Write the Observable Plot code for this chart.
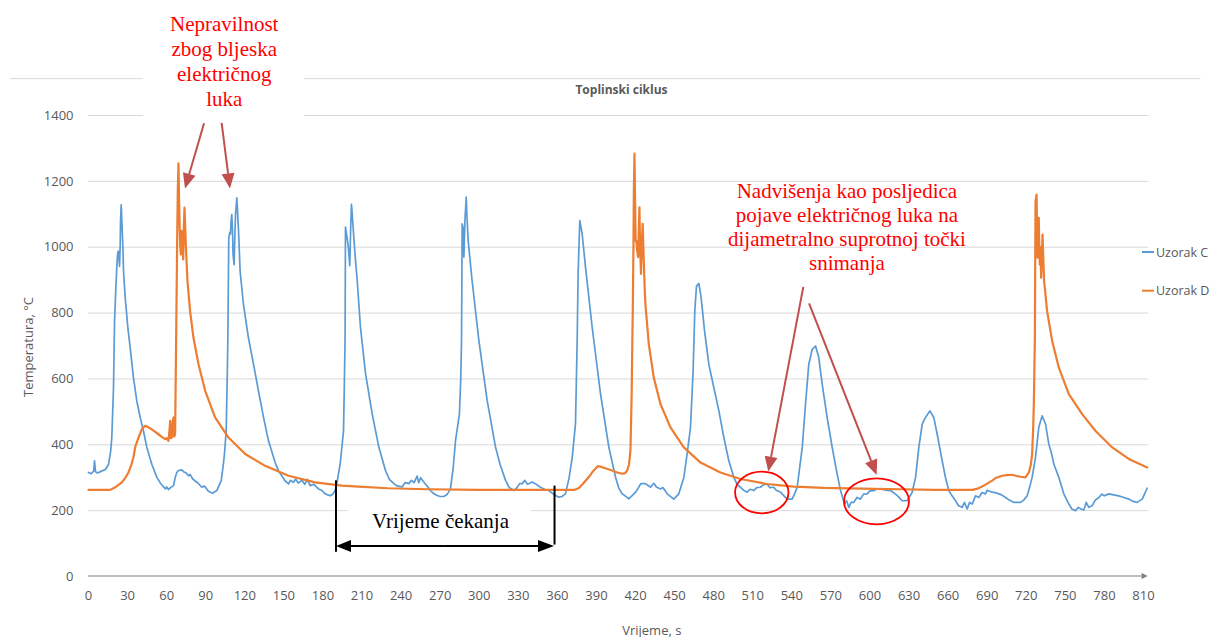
<!DOCTYPE html>
<html>
<head>
<meta charset="utf-8">
<script src="https://cdn.jsdelivr.net/npm/d3@7"></script>
<script src="https://cdn.jsdelivr.net/npm/@observablehq/plot@0.6"></script>
<style>
  html, body { margin: 0; padding: 0; background: #fff; }
  svg { display: block; }
</style>
</head>
<body>
<div id="chart"></div>
<script>
// ---------------- data ----------------
const chartTitle = "Toplinski ciklus";
const xLabel = "Vrijeme, s";
const yLabel = "Temperatura, °C";
const seriesNames = ["Uzorak C", "Uzorak D"];
const seriesColors = ["#5b9bd5", "#ed7d31"];
const xTicks = [0,30,60,90,120,150,180,210,240,270,300,330,360,390,420,450,480,510,540,570,600,630,660,690,720,750,780,810];
const yTicks = [0,200,400,600,800,1000,1200,1400];

// Uzorak C (blue)
const timeC = [0,2,4,4.6,5.4,7,10,13,15.4,17,17.9,19.2,20,21,22,22.5,23,23.5,23.8,24.3,24.6,25.1,25.5,25.8,26.5,26.9,28.2,30.2,32,34.5,37.1,39.7,42.2,44.8,48.6,52.5,55,57.6,59,60,61.4,63,65.3,66.5,67.8,69,71.7,73,75,76.8,78,80,81.9,84,87,89,92.1,95.2,98.5,101.9,103.5,104.4,105.7,106.5,107,107.7,108.5,109,109.5,110,110.5,111,111.8,112.4,112.9,113.9,114.3,115.2,115.8,116.4,119,122.8,126.7,130.5,134.4,138.2,143.3,146,148.4,151,153.6,155,157.4,159,161,163.8,166,168,170.2,173,176.6,179,181.7,185.5,187.5,189.4,191,193.2,195.8,196.5,197,197.3,198.5,199.5,200.6,201.3,201.9,202.5,203.5,205,206.3,208.8,212.7,217.8,222.9,228,231,234.4,237,240.8,243,245.9,248,250,252.3,253.5,255,257.4,260,262.6,265,267.7,270,272.8,275.5,277.9,280,281.8,284.8,285.8,286.4,286.9,287.5,288.2,289,290,290.5,291.5,294.5,299.7,306.1,312.5,316,320.2,323,326.6,329,331,333,335,337,340.7,343,347,350,353.4,357,361.1,363.5,366.2,369,371.4,373.9,375.2,375.9,377.2,379,381.6,386.7,393.1,399.5,404.6,407,409.7,412,414.8,417,420,422,424,427.6,431.5,434,436,439.2,441,444.3,449.4,453.2,457.1,459.6,462.2,464.2,465.5,466.8,468.6,470.4,473,476.3,480.1,484,487.8,491.6,495.5,498,500.6,503,505.7,508,510.8,513,515.9,518,521,523,526.2,528,531.3,534,536.4,540.2,542,544.1,546,548,550.5,553,555.6,558.2,560.7,563.3,567.1,571,574.8,577.4,580.4,582,583.8,585.5,587.6,590,592.7,595,597.8,600,603,605,608.1,612,615.8,619.6,622,624.7,628.6,632.4,635,637.5,640.1,642.6,646,649,651.6,655.4,658,660.5,663,665.7,668,670.8,672.5,674.6,676.5,678.5,681,683.6,686,688.7,690,693.8,696,698.9,701,704.1,707,710.5,715.6,718,720.7,722.5,724.5,727.1,729.6,732.2,734.8,737.3,739,741.2,745,748.8,752.7,755,757.8,760,762,764.2,766,768,770.6,773,775.7,778,780,783.4,787,791,795,798.7,802,805.1,809,812.8];
const tempC = [316,312,320,351,318,314,320,325,341,380,422,574,776,877,960,985,988,960,942,1000,1079,1129,1090,1059,990,927,846,756,695,604,533,483,442,392,341,301,285,272,266,272,264,270,276,300,316,322,324,318,314,306,310,296,290,284,271,275,259,253,261,291,340,372,442,600,725,1028,1045,1040,1080,1099,1060,978,947,1040,1099,1150,1120,1048,990,927,826,725,644,564,483,412,346,320,306,290,281,292,286,296,284,292,280,295,276,280,266,262,251,245,250,261,290,341,442,600,725,1061,1030,1000,944,1060,1130,1100,1040,960,899,757,616,494,393,322,295,282,275,272,285,282,292,285,305,285,300,287,275,261,252,246,243,243,250,266,330,413,494,600,717,1071,1060,970,1080,1152,1100,1020,899,717,534,393,340,292,270,261,270,282,282,292,280,287,282,271,265,261,250,241,243,251,300,362,464,717,919,1081,1041,939,757,555,393,302,270,251,245,236,244,256,268,282,282,271,283,272,266,270,251,235,251,301,372,453,624,806,882,890,846,745,644,574,503,422,352,301,280,271,262,256,265,261,270,271,278,281,270,271,262,256,245,235,235,250,271,330,392,523,644,690,700,665,584,483,392,311,261,220,230,210,225,225,240,235,250,251,260,261,265,266,262,261,250,242,230,230,256,301,392,463,483,503,483,432,352,300,261,245,230,215,210,225,205,225,220,245,240,255,251,262,256,255,251,248,240,232,225,225,232,245,270,301,362,453,488,463,402,380,341,301,251,220,205,200,210,205,202,225,210,215,232,240,250,245,251,248,245,240,235,228,225,235,268];

// Uzorak D (orange)
const timeD = [0,10,16.6,18,20.5,25.6,28,30.7,33,34.5,36,38.4,40.9,43.5,46,48.6,51,53.7,56,58.9,60,61.4,62.3,62.7,63.2,64,64.6,65.3,65.8,66.5,67.3,68.1,68.6,69.1,69.5,69.9,70.4,70.9,71.4,71.9,72.4,72.7,73.2,73.7,74.2,74.7,76,78,80.6,84.5,89.6,97.2,107.5,120.3,135.6,153.6,174,194.5,207.3,230,260,300,340,373,376.5,380,384.1,387,389.2,391,394.4,398,402,406,409.7,412,413.6,415,416.1,417,417.9,418.4,418.7,419.2,419.6,420.1,420.6,421.2,422,422.5,423,423.5,424.2,424.8,425.5,426,426.4,427.1,427.6,430.2,434,439.2,446.8,457.1,469.9,485.2,500.6,521,541.5,564.6,603,623.4,650,678.5,682,686.1,690,693.8,697,701.5,705,709.2,712,715.6,719.4,722,723.5,724.5,725.3,725.8,726.6,727.1,727.9,728.3,728.6,729.1,729.6,730,730.4,731,731.4,732,732.5,733.1,733.7,736,739.9,745,752.7,762.9,773.2,786,798.7,812.8];
const tempD = [263,263,263,266,271,286,298,316,340,362,395,422,447,458,453,447,440,432,425,417,420,412,450,473,420,422,470,483,425,432,725,1028,1180,1255,1150,1079,1010,978,1050,1048,990,963,1060,1120,1070,1008,897,806,725,644,564,483,422,372,336,306,286,276,273,268,265,263,263,263,269,283,302,318,327,335,332,327,322,316,312,314,322,340,383,550,818,1000,1172,1284,1150,1020,1020,990,970,1050,1121,1000,919,1010,1071,1000,950,868,826,705,604,523,453,392,346,316,296,281,273,269,266,265,263,263,266,273,282,291,300,306,308,309,306,303,301,316,340,372,450,523,725,1139,1160,1050,968,1040,1089,1000,947,1000,907,980,1038,960,897,806,715,634,554,493,442,392,357,331];

// annotation texts
const noteArc = ["Nepravilnost", "zbog bljeska", "električnog", "luka"];
const noteOvershoot = ["Nadvišenja kao posljedica", "pojave električnog luka na", "dijametralno suprotnoj točki", "snimanja"];
const noteWait = "Vrijeme čekanja";

// ---------------- build ----------------
const dataC = timeC.map((t, i) => ({t, v: tempC[i], s: seriesNames[0]}));
const dataD = timeD.map((t, i) => ({t, v: tempD[i], s: seriesNames[1]}));

const W = 1209, H = 637;
const grid = "#d9d9d9";
const textGray = "#595959";
const arrowRed = "#c0504d";

const chart = Plot.plot({
  width: W,
  height: H,
  marginLeft: 88,
  marginRight: 66,
  marginTop: 115,
  marginBottom: 61,
  style: {fontFamily: "'Open Sans', sans-serif", fontSize: "13px", background: "#fff", overflow: "visible"},
  x: {domain: [0, 810]},
  y: {domain: [0, 1400]},
  marks: [
    // chart-area top border
    Plot.ruleY([1512], {x1: -60, x2: 854, stroke: grid, strokeWidth: 1}),
    // gridlines
    Plot.ruleY(yTicks.filter(d => d > 0), {x1: 0, x2: 814, stroke: grid, strokeWidth: 1}),
    // white background box behind first note
    Plot.rect([{}], {x1: 42.2, x2: 165.8, y1: 1388, y2: 1760, fill: "#fff"}),
    Plot.axisX({ticks: xTicks, tickFormat: d => String(d), tickSize: 0, tickPadding: 14, label: null, color: textGray, fontSize: 13}),
    Plot.axisY({ticks: yTicks, tickFormat: d => String(d), tickSize: 0, tickPadding: 15, label: null, color: textGray, fontSize: 13}),
    // series
    Plot.line(dataC, {x: "t", y: "v", stroke: seriesColors[0], strokeWidth: 1.7, strokeLinejoin: "round"}),
    Plot.line(dataD, {x: "t", y: "v", stroke: seriesColors[1], strokeWidth: 2.2, strokeLinejoin: "round"}),
    // white box behind waiting-time label
    Plot.rect([{}], {x1: 199.2, x2: 340.1, y1: 109, y2: 219, fill: "#fff"}),
    // annotation texts
    Plot.text([noteArc.join("\n")], {x: 104.2, y: 1430, text: d => d, lineAnchor: "bottom", lineHeight: 1.18,
      fontFamily: "'Liberation Serif', 'Times New Roman', serif", fontSize: 21, fill: "#ff0000"}),
    Plot.text([noteOvershoot.join("\n")], {x: 582.3, y: 929.3, text: d => d, lineAnchor: "bottom", lineHeight: 1.155,
      fontFamily: "'Liberation Serif', 'Times New Roman', serif", fontSize: 21, fill: "#ff0000"}),
    Plot.text([noteWait], {x: 270.3, y: 145.8, text: d => d, lineAnchor: "bottom",
      fontFamily: "'Liberation Serif', 'Times New Roman', serif", fontSize: 21, fill: "#000"}),
    // waiting-time bracket verticals
    Plot.link([{x1: 190, y1: 292, x2: 190, y2: 75}, {x1: 357.8, y1: 276, x2: 357.8, y2: 97}],
      {x1: "x1", y1: "y1", x2: "x2", y2: "y2", stroke: "#000", strokeWidth: 2})
  ]
});

const sx = chart.scale("x").apply;
const sy = chart.scale("y").apply;
const svg = d3.select(chart);
const g = svg.append("g").attr("text-anchor", "start");

function arrow(x1, y1, x2, y2, color, w, hl, hw) {
  const px1 = sx(x1), py1 = sy(y1), px2 = sx(x2), py2 = sy(y2);
  const dx = px2 - px1, dy = py2 - py1, L = Math.hypot(dx, dy);
  const ux = dx / L, uy = dy / L;
  const bx = px2 - ux * hl, by = py2 - uy * hl;
  g.append("line").attr("x1", px1).attr("y1", py1).attr("x2", bx).attr("y2", by)
    .attr("stroke", color).attr("stroke-width", w);
  g.append("path")
    .attr("d", `M${px2},${py2}L${bx - uy * hw / 2},${by + ux * hw / 2}L${bx + uy * hw / 2},${by - ux * hw / 2}Z`)
    .attr("fill", color);
}

// x axis line with arrow
arrow(0, 0, 813.5, 0, "#7f7f7f", 1.2, 6, 6);

// red-brown arrows
const arcArrows = [[89.1, 1375, 74.5, 1177], [102.6, 1376, 109, 1177]];
const overshootArrows = [[549.2, 878, 522.3, 317], [553.6, 828, 605.5, 307]];
for (const a of arcArrows.concat(overshootArrows)) arrow(a[0], a[1], a[2], a[3], arrowRed, 2, 15, 13);

// double-headed waiting-time arrow
arrow(274, 91, 190.4, 91, "#000", 2, 15, 12);
arrow(274, 91, 357.8, 91, "#000", 2, 16, 12);

// ellipses around overshoots
const ellipses = [[517.3, 253.6, 26.7, 20.8], [605.4, 226.8, 32.5, 23]];
for (const e of ellipses) {
  g.append("ellipse").attr("cx", sx(e[0])).attr("cy", sy(e[1])).attr("rx", e[2]).attr("ry", e[3])
    .attr("fill", "none").attr("stroke", "#ff0000").attr("stroke-width", 1.8);
}

// title
g.append("text").attr("x", 621.5).attr("y", 94).attr("text-anchor", "middle")
  .attr("font-family", "'Open Sans', sans-serif").attr("font-size", 12).attr("font-weight", "bold")
  .attr("fill", textGray).text(chartTitle);

// axis titles
g.append("text").attr("transform", "translate(32.5,347) rotate(-90)").attr("text-anchor", "middle")
  .attr("font-family", "'Open Sans', sans-serif").attr("font-size", 13).attr("fill", textGray).text(yLabel);
g.append("text").attr("x", 651.8).attr("y", 635).attr("text-anchor", "middle")
  .attr("font-family", "'Open Sans', sans-serif").attr("font-size", 13).attr("fill", textGray).text(xLabel);

// legend
seriesNames.forEach((name, i) => {
  const y = 252 + i * 38.7;
  g.append("line").attr("x1", 1142).attr("x2", 1154).attr("y1", y).attr("y2", y)
    .attr("stroke", seriesColors[i]).attr("stroke-width", 2);
  g.append("text").attr("x", 1156).attr("y", y + 4.5).attr("text-anchor", "start")
    .attr("font-family", "'Open Sans', sans-serif").attr("font-size", 12.5).attr("fill", textGray).text(name);
});

document.getElementById("chart").appendChild(chart);
</script>
</body>
</html>
